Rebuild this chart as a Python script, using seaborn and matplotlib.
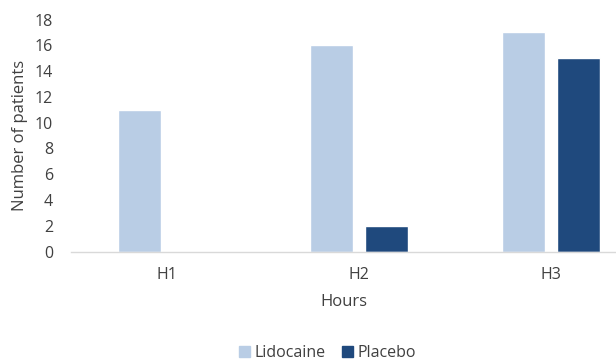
import matplotlib
matplotlib.use("Agg")
import matplotlib.pyplot as plt
import seaborn as sns
import pandas as pd

hours = ["H1", "H2", "H3"]
lidocaine = [11, 16, 17]
placebo = [0, 2, 15]
groups = ["Lidocaine", "Placebo"]
colors = ["#B9CDE5", "#1F497D"]
y_ticks = [0, 2, 4, 6, 8, 10, 12, 14, 16, 18]

df = pd.DataFrame({
    "Hours": hours * 2,
    "Patients": lidocaine + placebo,
    "Group": [groups[0]] * len(hours) + [groups[1]] * len(hours),
})

sns.set_theme(style="white")
plt.rcParams["font.family"] = ["Open Sans", "DejaVu Sans"]
text_color = "#404040"

fig = plt.figure(figsize=(6.16, 3.61), dpi=100)
ax = fig.add_axes([71 / 616, 1 - 251.5 / 361, 1 - 71 / 616, (251.5 - 19.5) / 361])

sns.barplot(data=df, x="Hours", y="Patients", hue="Group", palette=colors,
            width=0.569, gap=0.207, ax=ax, legend=False, saturation=1)

ax.set_xlim(-0.5, 2.339)
ax.set_ylim(0, 18)
ax.set_yticks(y_ticks)
ax.set_yticklabels([str(v) for v in y_ticks])

for s in ["top", "right", "left"]:
    ax.spines[s].set_visible(False)
ax.spines["bottom"].set_color("#D9D9D9")
ax.spines["bottom"].set_linewidth(1.0)

ax.tick_params(axis="both", length=0, labelsize=11.5, colors=text_color)
ax.tick_params(axis="y", pad=13)
ax.tick_params(axis="x", pad=11)

ax.set_xlabel("Hours", fontsize=12, color=text_color, labelpad=8)
ax.set_ylabel("Number of patients", fontsize=12, color=text_color, labelpad=5)

handles = [plt.Rectangle((0, 0), 1, 1, color=c) for c in colors]
fig.legend(handles, groups, loc="center", bbox_to_anchor=(327.5 / 616, 1 - 353 / 361),
           ncol=2, frameon=False, fontsize=11.5, handlelength=0.7, handleheight=0.7,
           handletextpad=0.3, columnspacing=1.0, labelcolor=text_color)

fig.savefig("out.png", dpi=100)
